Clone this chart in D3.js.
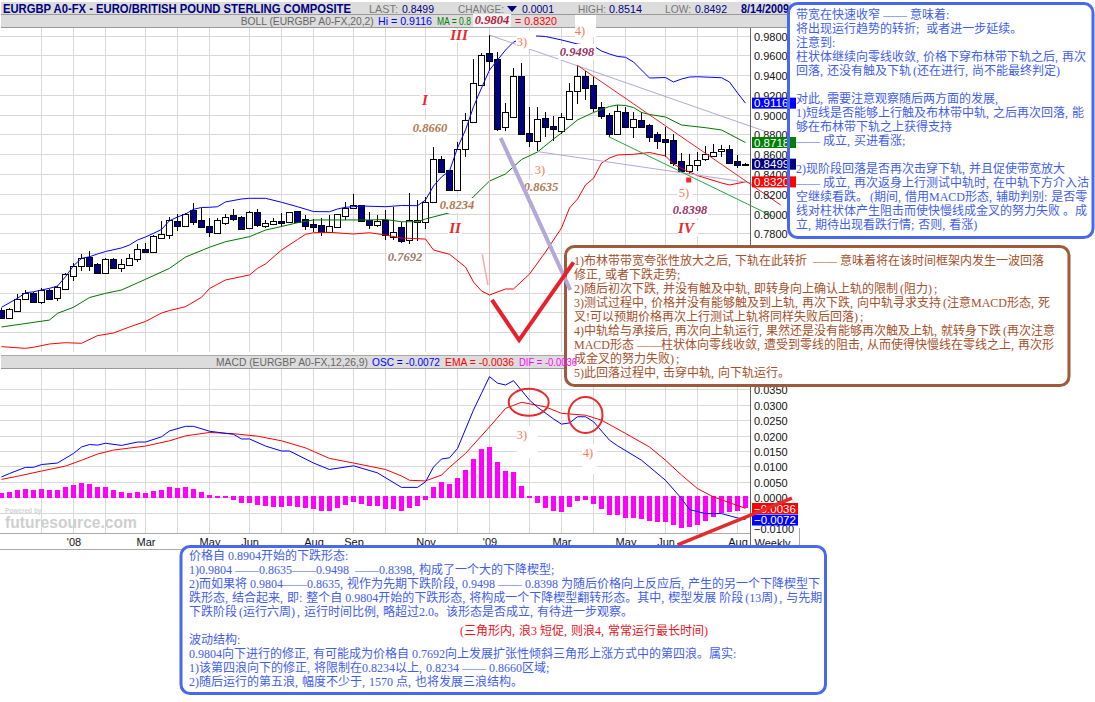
<!DOCTYPE html>
<html lang="zh-CN"><head><meta charset="utf-8">
<style>html,body{margin:0;padding:0;background:#fff;overflow:hidden}svg{display:block}</style>
<script src="https://cdn.jsdelivr.net/npm/d3@7/dist/d3.min.js"></script>
</head><body><svg id="c" width="1095" height="702"></svg>
<script>
// ---------- weekly candles (price) ----------
const opens=[.7024,.6941,.7017,.7133,.7199,.7108,.7227,.7149,.7240,.7371,
.7466,.7557,.7487,.7396,.7537,.7446,.7477,.7537,.7641,.7614,
.7750,.7780,.7922,.7877,.8036,.7932,.7871,.7806,.7901,.7982,
.7968,.7851,.8012,.7877,.7891,.7922,.7911,.8026,.7942,.7894,
.7881,.7810,.7861,.7978,.8053,.8083,.7935,.7887,.7932,.7766,
.7867,.7732,.7915,.7917,.8119,.8548,.8440,.8238,.8649,.8928,
.9300,.9626,.9562,.8872,.8979,.9394,.8811,.8736,.8963,.8885,
.8838,.8956,.9236,.9388,.9297,.9080,.8996,.8804,.9023,.8878,
.8946,.8892,.8804,.8754,.8740,.8528,.8430,.8494,.8548,.8585,
.8629,.8649,.8528,.8505];
const highs=[.7045,.7040,.7186,.7227,.7209,.7244,.7240,.7267,.7396,.7497,
.7591,.7621,.7497,.7547,.7550,.7540,.7588,.7689,.7705,.7783,
.7925,.7968,.7995,.8008,.8103,.8053,.7952,.7952,.7995,.8043,
.7978,.8026,.8043,.7935,.7952,.8002,.8019,.8026,.7985,.7942,
.7952,.7985,.7992,.8119,.8197,.8086,.8012,.7985,.8036,.8069,
.7915,.8205,.8137,.8170,.8676,.8582,.8440,.8726,.9019,.9559,
.9626,.9804,.9630,.9121,.9468,.9519,.9080,.9080,.9030,.8986,
.9013,.9317,.9498,.9444,.9377,.9131,.9013,.9097,.9074,.9030,
.9030,.8905,.8827,.8878,.8804,.8609,.8602,.8625,.8683,.8699,
.8693,.8693,.8592,.8514];
const lows=[.6934,.6934,.7007,.7126,.7108,.7085,.7139,.7116,.7240,.7321,
.7419,.7422,.7396,.7396,.7436,.7412,.7477,.7513,.7608,.7598,
.7750,.7746,.7826,.7867,.7884,.7861,.7766,.7806,.7884,.7928,
.7841,.7841,.7867,.7851,.7884,.7861,.7911,.7911,.7834,.7816,
.7773,.7800,.7861,.7935,.8046,.7917,.7844,.7867,.7732,.7732,
.7702,.7692,.7722,.7841,.8103,.8413,.8234,.8238,.8575,.8928,
.9300,.9434,.8838,.8838,.8963,.8794,.8670,.8635,.8771,.8736,
.8804,.8956,.9108,.9148,.9030,.8956,.8777,.8804,.8872,.8761,
.8872,.8726,.8652,.8575,.8484,.8417,.8398,.8433,.8534,.8575,
.8575,.8508,.8457,.8492];
const closes=[.6947,.7032,.7139,.7199,.7108,.7227,.7139,.7254,.7386,.7472,
.7553,.7466,.7396,.7540,.7446,.7487,.7547,.7638,.7614,.7773,
.7790,.7932,.7877,.7992,.7911,.7867,.7816,.7932,.7962,.7945,
.7841,.8016,.7887,.7901,.7922,.7907,.8019,.7917,.7877,.7867,
.7813,.7877,.7992,.8056,.8083,.7928,.7884,.7922,.7783,.7810,
.7722,.7935,.7932,.8119,.8548,.8423,.8238,.8649,.8946,.9317,
.9603,.9545,.8858,.9023,.9394,.8804,.8736,.8953,.8878,.8852,
.8973,.9236,.9388,.9266,.9070,.8989,.8804,.9034,.8878,.8953,
.8878,.8777,.8736,.8726,.8508,.8433,.8494,.8544,.8602,.8625,
.8652,.8514,.8494,.8499];
// ---------- Bollinger bands: [week, price] read at knots ----------
const bollUpper=[[0,.7052],[2,.7143],[3,.7199],[4,.7209],[5,.7227],[6,.7244],[7,.7267],[8,.7361],[9,.7472],[10,.7547],[11,.7563],[12,.7591],[13,.7616],[15,.7652],[16,.7682],[17,.7732],[18,.7763],[19,.7800],[20,.7839],[21,.7927],[22,.7965],[23,.7995],[24,.8043],[25,.8061],[26,.8063],[27,.8069],[28,.8117],[30,.8147],[31,.8154],[33,.8154],[35,.8114],[37,.8069],[39,.8020],[41,.8018],[42,.8046],[43,.8063],[45,.8076],[48,.8069],[50,.8081],[52,.8079],[53,.8137],[54,.8278],[55,.8370],[56,.8430],[57,.8663],[58,.8845],[59,.9080],[60,.9269],[61,.9451],[62,.9552],[63,.9653],[64,.9734],[65,.9765],[66,.9790],[67,.9795],[68,.9790],[70,.9755],[72,.9714],[74,.9694],[75,.9643],[76,.9613],[77,.9588],[78,.9580],[79,.9532],[80,.9451],[81,.9370],[83,.9375],[84,.9330],[85,.9360],[86,.9380],[87,.9383],[90,.9373],[91,.9330],[92,.9219],[93,.9116]];
const bollMiddle=[[0,.6853],[6,.6923],[7,.6991],[9,.7052],[11,.7151],[13,.7193],[15,.7227],[18,.7335],[21,.7446],[23,.7560],[26,.7659],[28,.7715],[31,.7766],[33,.7833],[35,.7869],[37,.7907],[39,.7935],[46,.7935],[48,.7940],[50,.7917],[52,.7917],[53,.7945],[56,.8008],[57,.8056],[58,.8106],[59,.8170],[61,.8329],[63,.8400],[65,.8546],[67,.8622],[69,.8754],[70,.8814],[71,.8880],[72,.8946],[74,.9022],[76,.9082],[77,.9097],[78,.9092],[79,.9072],[80,.9022],[81,.9001],[83,.8976],[85,.8895],[88,.8868],[90,.8845],[93,.8718]];
const bollLower=[[0,.6654],[3,.6637],[4,.6648],[6,.6681],[8,.6694],[10,.6688],[12,.6765],[14,.6792],[16,.6853],[18,.6909],[20,.6994],[21,.7019],[23,.7058],[25,.7153],[26,.7242],[28,.7328],[31,.7379],[32,.7446],[33,.7490],[35,.7631],[37,.7737],[38,.7790],[39,.7806],[41,.7810],[44,.7793],[46,.7806],[48,.7783],[50,.7752],[53,.7742],[54,.7631],[56,.7588],[58,.7459],[59,.7308],[60,.7217],[61,.7176],[63,.7237],[64,.7237],[66,.7388],[68,.7611],[70,.7854],[71,.8056],[72,.8147],[73,.8289],[74,.8356],[75,.8510],[76,.8561],[77,.8592],[79,.8599],[81,.8617],[83,.8582],[84,.8501],[85,.8455],[87,.8384],[90,.8309],[91,.8289],[93,.8320]];
// ---------- MACD: [week, value] read at knots, histogram per week ----------
const macdFast=[[0,.0066],[1,.0077],[3,.0097],[4,.0097],[5,.0106],[7,.0111],[9,.0142],[10,.0163],[11,.0171],[12,.0169],[13,.0175],[15,.0168],[17,.0179],[18,.0179],[20,.0196],[21,.0215],[23,.0230],[24,.0230],[26,.0214],[29,.0204],[30,.0189],[31,.0189],[33,.0166],[35,.0150],[36,.0150],[39,.0111],[41,.0090],[44,.0102],[47,.0079],[50,.0032],[52,.0032],[53,.0050],[54,.0098],[55,.0124],[56,.0128],[57,.0158],[59,.0283],[60,.0337],[61,.0391],[62,.0370],[63,.0364],[64,.0378],[66,.0315],[67,.0292],[69,.0254],[70,.0237],[71,.0241],[72,.0261],[73,.0261],[74,.0245],[76,.0185],[77,.0167],[80,.0120],[83,.0055],[85,-.0004],[86,-.0040],[88,-.0053],[90,-.0053],[92,-.0067],[93,-.0072]];
const macdEma=[[0,.0058],[2,.0068],[5,.0085],[8,.0101],[10,.0120],[12,.0140],[14,.0153],[18,.0166],[21,.0183],[23,.0199],[26,.0210],[29,.0206],[32,.0198],[35,.0183],[38,.0160],[41,.0126],[44,.0111],[48,.0090],[50,.0069],[51,.0055],[53,.0053],[55,.0072],[56,.0097],[58,.0142],[61,.0228],[63,.0288],[65,.0308],[68,.0293],[70,.0272],[73,.0266],[75,.0250],[78,.0207],[81,.0163],[83,.0120],[85,.0072],[87,.0028],[89,.0001],[93,-.0036]];
const macdHist=[.0013,.0016,.0022,.0027,.0025,.0027,.0022,.0025,.0032,.0040,.0047,.0044,.0032,.0032,.0025,.0018,.0014,.0018,.0014,.0021,.0025,.0034,.0031,.0034,.0027,.0018,.0006,.0002,.0002,-.0008,-.0018,-.0018,-.0024,-.0028,-.0031,-.0031,-.0028,-.0030,-.0034,-.0037,-.0043,-.0044,-.0034,-.0024,-.0015,-.0021,-.0028,-.0028,-.0037,-.0038,-.0044,-.0034,-.0028,-.0010,.0033,.0050,.0044,.0063,.0089,.0124,.0157,.0163,.0114,.0085,.0082,.0037,.0002,-.0018,-.0034,-.0044,-.0047,-.0031,-.0011,-.0008,-.0021,-.0037,-.0057,-.0057,-.0067,-.0067,-.0070,-.0076,-.0079,-.0079,-.0089,-.0099,-.0096,-.0089,-.0076,-.0063,-.0050,-.0047,-.0044,-.0036];
// ---------- ticks ----------
const priceTicks=[.98,.96,.94,.92,.90,.88,.86,.84,.82,.80,.78];
const priceGrid=[.98,.96,.94,.92,.90,.88,.86,.84,.82,.80,.78,.76,.74,.72,.70,.68];
const macdTicks=[.035,.03,.025,.02,.015,.01,.005,0,-.01];
const macdGrid=[.035,.03,.025,.02,.015,.01,.005,0,-.005];
const gridWeeks=[5,9,13,18,22,26,31,35,39,44,48,53,57,61,66,70,74,78,83,87,92];
const timeWeeks=[9,18,26,31,39,44,53,61,70,78,83,92];
const timeLabels=["'08","Mar","May","Jun","Aug","Sep","Nov","'09","Mar","May","Jun","Aug"];
// ---------- hand-drawn trend lines: [week, price] ----------
const trendPurpleUpper=[[61,.9804],[95.6,.8827]];
const trendPurpleLower=[[67.1,.8625],[97.4,.8265]];
const trendRed=[[72,.9498],[97.4,.8086]];
const trendGreen=[[75.9,.8777],[96.5,.7968]];
const pinkVertical=[[61,.9441],[61,.7277]];
const pinkShort=[[60.1,.7588],[60.8,.7277]];
const thickPurple=[[62.4,.8764],[71.1,.7227]];
const thickCheck=[[61.3,.7126],[64.7,.6721],[71.5,.7507]];
const thickMacdLine=[[84.5,-.01546],[98.8,-.00032]];
const lowMarker=[85.9,.8339];
const macdCircles=[[65.9,.0308],[73,.0267]];
// ---------- texts ----------
const blueLines=["带宽在快速收窄 —— 意味着:","将出现运行趋势的转折; 或者进一步延续。","注意到:","柱状体继续向零线收敛,价格下穿布林带下轨之后,再次","回落,还没有触及下轨(还在进行,尚不能最终判定)","","对此,需要注意观察随后两方面的发展,","1)短线是否能够上行触及布林带中轨,之后再次回落,能","够在布林带下轨之上获得支持","—— 成立,买进看涨;","","2)现阶段回落是否再次击穿下轨,并且促使带宽放大","—— 成立,再次返身上行测试中轨时,在中轨下方介入沽","空继续看跌。(期间,借用MACD形态,辅助判别:是否零","线对柱状体产生阻击而使快慢线成金叉的努力失败 。成","立,期待出现看跌行情;否则,看涨)"];
const brownLines=["1)布林带带宽夸张性放大之后,下轨在此转折  —— 意味着将在该时间框架内发生一波回落","修正,或者下跌走势;","2)随后初次下跌,并没有触及中轨,即转身向上确认上轨的限制(阻力);","3)测试过程中,价格并没有能够触及到上轨,再次下跌,向中轨寻求支持(注意MACD形态,死","叉!可以预期价格再次上行测试上轨将同样失败后回落);","4)中轨给与承接后,再次向上轨运行,果然还是没有能够再次触及上轨,就转身下跌(再次注意","MACD形态 ——柱状体向零线收敛,遭受到零线的阻击,从而使得快慢线在零线之上,再次形","成金叉的努力失败);","5)此回落过程中,击穿中轨,向下轨运行。"];
const bottomLines=["价格自 0.8904开始的下跌形态:","1)0.9804 ——0.8635——0.9498  ——0.8398,构成了一个大的下降楔型;","2)而如果将 0.9804——0.8635,视作为先期下跌阶段,0.9498 —— 0.8398 为随后价格向上反应后,产生的另一个下降楔型下","跌形态,结合起来,即:整个自 0.9804开始的下跌形态,将构成一个下降楔型翻转形态。其中,楔型发展 阶段(13周),与先期","下跌阶段(运行六周),运行时间比例,略超过2.0。该形态是否成立,有待进一步观察。"];
const bottomLines2=["波动结构:","0.9804向下进行的修正,有可能成为价格自 0.7692向上发展扩张性倾斜三角形上涨方式中的第四浪。属实:","1)该第四浪向下的修正,将限制在0.8234以上,0.8234 —— 0.8660区域;","2)随后运行的第五浪,幅度不少于,1570 点,也将发展三浪结构。"];
const bottomRed="(三角形内,浪3 短促,则浪4,常常运行最长时间)";

// ---------- scales ----------
const W=1095,H=702;
const svg=d3.select("#c");
const x=d3.scaleLinear().domain([0,93]).range([1.5,745.5]);
const py=d3.scaleLinear().domain([.66,.98]).range([352,35.5]);
const my=d3.scaleLinear().domain([-.01,.035]).range([528.1,389.3]);
const week=i=>x(i);
const SANS='"Liberation Sans",Arial,sans-serif', SER='"Liberation Serif",serif';
const CJK='"Liberation Serif","Noto Sans CJK SC",serif';
const GRID="#d8d8d8";
svg.append("rect").attr("width",W).attr("height",H).attr("fill","#fff");

// grid
const crisp=g=>g.attr("shape-rendering","crispEdges");
const grid=svg.append("g").call(crisp).attr("stroke",GRID).attr("stroke-width",1);
grid.selectAll(".h").data(priceGrid).join("line").attr("x1",0).attr("x2",750)
  .attr("y1",d=>Math.round(py(d))+.5).attr("y2",d=>Math.round(py(d))+.5);
grid.selectAll(".m").data(macdGrid).join("line").attr("x1",0).attr("x2",750)
  .attr("y1",d=>Math.round(my(d))+.5).attr("y2",d=>Math.round(my(d))+.5);
[[28,352],[369,533]].forEach(([a,b])=>{
  grid.append("g").selectAll("line").data(gridWeeks).join("line")
   .attr("x1",d=>Math.floor(week(d))+.5).attr("x2",d=>Math.floor(week(d))+.5).attr("y1",a).attr("y2",b);
});
// watermark
svg.append("text").attr("x",5).attr("y",513).attr("font-family",SANS).attr("font-size",6.5).attr("font-weight","bold").attr("fill","#d4d4d4").text("Powered by");
svg.append("text").attr("x",5).attr("y",528).attr("font-family",SANS).attr("font-size",16).attr("font-weight","bold").attr("fill","#cfcfcf")
  .attr("textLength",132).attr("lengthAdjust","spacingAndGlyphs").text("futuresource.com");

// candles
const candles=opens.map((o,i)=>({i,o,h:highs[i],l:lows[i],c:closes[i]}));
const cg=svg.append("g").call(crisp);
cg.selectAll(".w").data(candles).join("line").attr("stroke","#000")
  .attr("x1",d=>Math.floor(week(d.i))+.5).attr("x2",d=>Math.floor(week(d.i))+.5)
  .attr("y1",d=>py(d.h)).attr("y2",d=>py(d.l));
cg.selectAll(".b").data(candles).join("rect")
  .attr("x",d=>Math.floor(week(d.i))-2.5).attr("width",6)
  .attr("y",d=>Math.round(py(Math.max(d.o,d.c)))+.5)
  .attr("height",d=>Math.max(1,Math.round(py(Math.min(d.o,d.c)))-Math.round(py(Math.max(d.o,d.c)))))
  .attr("fill",d=>d.c<d.o?"#000080":"#fff").attr("stroke","#000");

// bands
const line=(yS)=>d3.line().x(d=>x(d[0])).y(d=>yS(d[1]));
const path=(data,yS,col,w=1,extra={})=>{const p=svg.append("path").attr("d",line(yS)(data)).attr("fill","none").attr("stroke",col).attr("stroke-width",w);
  Object.entries(extra).forEach(([k,v])=>p.attr(k,v));return p;};
path(bollUpper,py,"#0000ff");path(bollMiddle,py,"#007700");path(bollLower,py,"#ff0000");

// trend lines
path(pinkVertical,py,"#ffa8b0",1,{"shape-rendering":"crispEdges"});
path(pinkShort,py,"#ffa8b0",1.5);
path(trendPurpleUpper,py,"#b5a8d4",1);
path(trendPurpleLower,py,"#b5a8d4",1);
path(trendRed,py,"#ee2222",1);
path(trendGreen,py,"#22aa44",1);
svg.append("rect").attr("x",x(lowMarker[0])-2.5).attr("y",py(lowMarker[1])-2.5).attr("width",5).attr("height",5).attr("fill","#f22");

// MACD
svg.append("g").call(crisp).selectAll("rect").data(macdHist).join("rect")
  .attr("x",(d,i)=>Math.floor(week(i))-2).attr("width",5)
  .attr("y",d=>Math.min(my(d),my(0)-1)).attr("height",d=>Math.max(2,Math.abs(my(d)-my(0))+1))
  .attr("fill","#ff00ff");
path(macdEma,my,"#ff0000");path(macdFast,my,"#0000ff");

// white label patches with annotation text
const patches=[
 [516,31,20,18],[558,44,38,16],[414,120,33,15],[441,198,32,15],[526,180,32,14],
 [533,162,15,17],[387,250,36,14],[672,202,36,16],[677,186,16,14],[678,220,20,16],[450,29,18,13],[420,93,10,15],[448,221,14,15],
 [517,426,21,32],[582,444,15,30]];
svg.append("g").selectAll("rect").data(patches).join("rect")
  .attr("x",d=>d[0]).attr("y",d=>d[1]).attr("width",d=>d[2]).attr("height",d=>d[3]).attr("fill","#fff");

// circles on MACD
svg.append("g").selectAll("ellipse").data(macdCircles).join("ellipse")
  .attr("cx",d=>x(d[0])).attr("cy",d=>my(d[1])).attr("rx",(d,i)=>i?17:20).attr("ry",(d,i)=>i?18:13.5)
  .attr("fill","none").attr("stroke","#e82a2a").attr("stroke-width",2);

// header bars
const bar=(y,h)=>{svg.append("rect").attr("x",1).attr("y",y).attr("width",790).attr("height",h).attr("fill","#dcdcdc");
  svg.append("rect").attr("x",1).attr("y",y+h).attr("width",790).attr("height",1).attr("fill","#999");};
bar(2,12);bar(15,12);bar(356,12);
svg.append("rect").attr("x",1).attr("y",355).attr("width",790).attr("height",1).attr("fill","#aaa");
const txt=(s,xx,y,col,o={})=>svg.append("text").attr("x",xx).attr("y",y).attr("fill",col).attr("font-family",SANS).attr("font-size",o.size||11)
  .attr("font-weight",o.bold?"bold":"normal").attr("textLength",o.len||null).attr("lengthAdjust",o.len?"spacingAndGlyphs":null).text(s);
txt("EURGBP A0-FX - EURO/BRITISH POUND STERLING COMPOSITE",3,12.5,"#000080",{bold:1,size:12,len:348});
[["LAST:",369,"#777",29],["0.8499",402,"#000080",32],["CHANGE:",458,"#777",46],["0.0001",522,"#000080",32],["HIGH:",578,"#777",28],["0.8514",609,"#000080",33],["LOW:",665,"#777",26],["0.8492",695,"#000080",32]]
 .forEach(d=>txt(d[0],d[1],12.5,d[2],{len:d[3]}));
svg.append("path").attr("d","M507,6h10l-5,6z").attr("fill","#000080");
txt("8/14/2009",741,12.5,"#000080",{bold:1,size:12.5,len:48});
txt("BOLL (EURGBP A0-FX,20,2)",240.7,25,"#666",{len:133});
txt("Hi = 0.9116",378,25,"#0000ff",{len:54});
txt("MA = 0.8",437,25,"#008000",{len:34});
txt("= 0.8320",515,25,"#ff0000",{len:42});
txt("MACD (EURGBP A0-FX,12,26,9)",216,366,"#666",{len:152});
txt("OSC = -0.0072",372,366,"#0000ff",{len:68});
txt("EMA = -0.0036",445,366,"#ff0000",{len:69});
// label patches that sit on the header bar
svg.append("rect").attr("x",473).attr("y",14).attr("width",38).attr("height",13).attr("fill","#f4f4f4");
svg.append("rect").attr("x",575).attr("y",15).attr("width",21).attr("height",22).attr("fill","#fff");

const romans=[["I",425,105],["III",459,40],["II",455,233],["IV",686,233]];
svg.append("g").selectAll("text").data(romans).join("text").attr("x",d=>d[1]).attr("y",d=>d[2]).text(d=>d[0])
  .attr("text-anchor","middle").attr("font-family",SER).attr("font-style","italic").attr("font-weight","bold").attr("font-size",15).attr("fill","#e82a2a");
const priceLabels=[["0.8660",430,132,"#b07850"],["0.8234",457,209,"#b07850"],["0.8635",541,191,"#b07850"],["0.7692",405,261,"#9a7a6a"],["0.9498",577,56,"#993366"],["0.8398",690,214,"#993366"],["0.9804",492,24,"#b02040"]];
svg.append("g").selectAll("text").data(priceLabels).join("text").attr("x",d=>d[1]).attr("y",d=>d[2]).text(d=>d[0]).attr("fill",d=>d[3])
  .attr("text-anchor","middle").attr("font-family",SER).attr("font-style","italic").attr("font-weight","bold").attr("font-size",12.5);
const waves=[["3)",522,46],["3)",540,174],["4)",580,35],["5)",684,197],["3)",522,439],["4)",588,457]];
svg.append("g").selectAll("text").data(waves).join("text").attr("x",d=>d[1]).attr("y",d=>d[2]).text(d=>d[0])
  .attr("text-anchor","middle").attr("font-family",SER).attr("font-size",12.5).attr("fill","#ff7755");

// axes
svg.append("rect").attr("x",750).attr("y",28).attr("width",1).attr("height",521).attr("fill","#666");
svg.append("rect").attr("x",0).attr("y",533).attr("width",750).attr("height",1).attr("fill","#aaa");
svg.append("rect").attr("x",0).attr("y",549).attr("width",800).attr("height",1).attr("fill","#aaa");
svg.append("rect").attr("x",799).attr("y",528).attr("width",1).attr("height",22).attr("fill","#aaa");
const styleAxis=g=>{g.select(".domain").remove();g.selectAll("text").attr("font-family",SANS).attr("font-size",11).attr("fill","#111");};
svg.append("g").attr("transform","translate(750,1)").call(d3.axisRight(py).tickValues(priceTicks).tickSize(0).tickPadding(4).tickFormat(d3.format(".4f"))).call(styleAxis);
svg.append("g").attr("transform","translate(750,1)").call(d3.axisRight(my).tickValues(macdTicks).tickSize(0).tickPadding(4).tickFormat(d3.format(".4f"))).call(styleAxis);
svg.append("g").attr("transform","translate(0,534)").call(d3.axisBottom(x).tickValues(timeWeeks).tickSize(0).tickPadding(4).tickFormat((d,i)=>timeLabels[i])).call(styleAxis);
svg.append("text").attr("x",772.5).attr("y",547).attr("text-anchor","middle").attr("font-family",SANS).attr("font-size",11).attr("fill","#111").text("Weekly");

// annotation boxes
const box=(xx,y,w,h,col,fill)=>svg.append("rect").attr("x",xx).attr("y",y).attr("width",w).attr("height",h).attr("rx",9).attr("fill",fill).attr("stroke",fill==="none"?col:"none").attr("stroke-width",3);
// widen the punctuation to the rhythm of the bitmap font of the reference
const fmt=s=>s.replace(/,/g,",\u2004").replace(/;/g,";\u2004").replace(/:/g,":\u2004").replace(/!/g,"!")
  .replace(/\(/g,"\u2006(").replace(/\)/g,(m,o)=>(o===1&&/\d/.test(s[0]))?")":")\u2006");
const lines=(arr,xx,ys,col)=>arr.forEach((s,i)=>{ if(!s)return;
  svg.append("text").attr("x",xx).attr("y",ys[i]).style("white-space","pre").attr("font-family",CJK).attr("font-size",12).attr("fill",col).text(fmt(s));});
const BLUE="#4a68ee",BTXT="#3f5eee",BROWN="#a0593a",BRTXT="#a5502a";
// blue box
box(788.5,3.5,304.5,234,BLUE,"#fff");
[[0.9116,"#0000ff"],[0.8718,"#008000"],[0.8499,"#000080"],[0.8320,"#ff0000"]].forEach(([v,c])=>{
  const yy=py(v);
  svg.append("rect").attr("x",752).attr("y",yy-5.5).attr("width",44).attr("height",11).attr("fill",c);
  svg.append("text").attr("x",754).attr("y",yy+4).attr("font-family",SANS).attr("font-size",11.5).attr("fill","#fff").text(d3.format(".4f")(v));
});
box(788.5,3.5,304.5,234,BLUE,"none");
lines(blueLines,796,blueLines.map((s,i)=>18.5+i*14),BTXT);
// brown box
box(565.5,246.5,503.5,139,BROWN,"#fff");
box(565.5,246.5,503.5,139,BROWN,"none");
lines(brownLines,574,brownLines.map((s,i)=>264.5+i*14.1),BRTXT);
txt("DIF = -0.0036",519,366,"#ff00ff",{len:58});
// MACD tags
[[-.0036,"#ff0000",503],[-.0072,"#0000ff",514.5]].forEach(([v,c,top])=>{
  svg.append("rect").attr("x",752).attr("y",top).attr("width",46).attr("height",11).attr("fill",c);
  svg.append("text").attr("x",754).attr("y",top+9.5).attr("font-family",SANS).attr("font-size",11.5).attr("fill","#fff").text(d3.format(".4f")(v));
});
// bottom box
box(181,546.5,644.5,147,BLUE,"#fff");
box(181,546.5,644.5,147,BLUE,"none");
lines(bottomLines,189,bottomLines.map((s,i)=>559.5+i*14),BTXT);
lines([bottomRed],458,[634.5],"#ee1122");
lines(bottomLines2,189,bottomLines2.map((s,i)=>643.5+i*14),BTXT);

// thick hand-drawn marks
path(thickPurple,py,"#b3a8d8",4);
path(thickCheck,py,"#e8202c",4,{"stroke-linejoin":"miter"});
path(thickMacdLine,my,"#e42a2a",3.5);
</script></body></html>
